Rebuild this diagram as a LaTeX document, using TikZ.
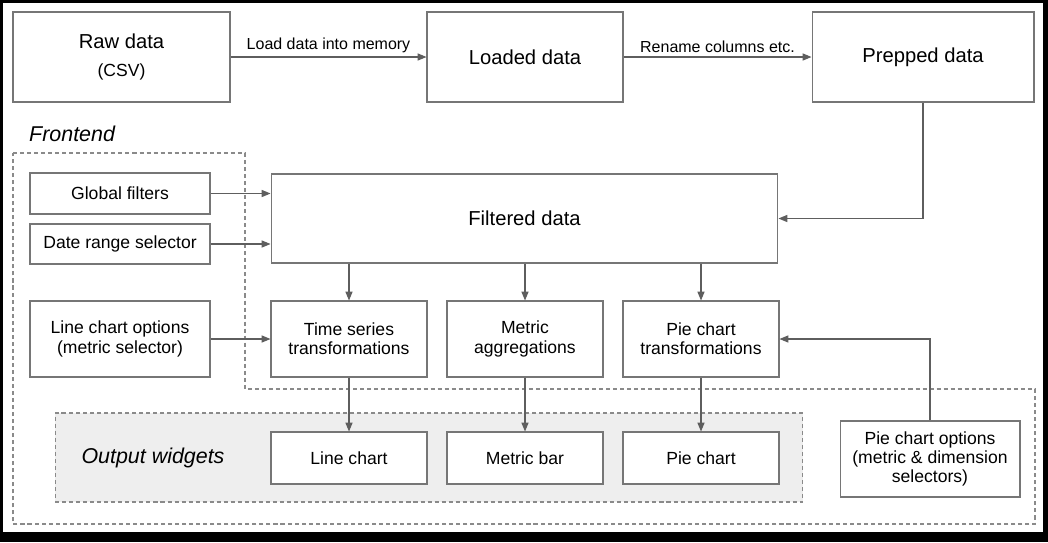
\documentclass[tikz,border=0pt]{standalone}
\usepackage{fontspec}
\setmainfont{Liberation Sans}
\usetikzlibrary{positioning,arrows.meta}
\definecolor{linegray}{HTML}{5E5E5E}
\definecolor{boxgray}{HTML}{767676}
\definecolor{dashgray}{HTML}{8A8A8A}
\definecolor{panelgray}{HTML}{EEEEEE}

\begin{document}
\begin{tikzpicture}[x=0.02cm,y=-0.02cm,
bignode/.style={rectangle, draw=boxgray, fill=white, line width=0.6pt, align=center, font=\fontsize{11.5}{13.5}\selectfont},
smallnode/.style={rectangle, draw=boxgray, fill=white, line width=0.6pt, align=center, font=\fontsize{10}{11}\selectfont},
topbox/.style={bignode, minimum height=1.8cm},
sidebox/.style={smallnode, minimum width=3.6cm},
stepbox/.style={smallnode, minimum width=3.12cm, minimum height=1.52cm},
chartbox/.style={smallnode, minimum width=3.12cm, minimum height=1.04cm},
edgelabel/.style={font=\fontsize{9.1}{11}\selectfont, inner sep=2pt},
arr/.style={draw=linegray, line width=0.6pt, -{Triangle[length=5pt,width=4pt]}},
groupbox/.style={draw=dashgray, line width=0.6pt, dash pattern=on 2.3pt off 1.7pt},
grouplabel/.style={font=\fontsize{12.2}{14}\selectfont\itshape},
]
%Frame
\fill[black] (0,0) rectangle (1048,542);
\fill[white] (3,3) rectangle (1043,532);
%Groups
\draw[groupbox] (13,153) -- (245,153) -- (245,389) -- (1035,389) -- (1035,524) -- (13,524) -- cycle;
\node[grouplabel, anchor=base west] (frontlabel) at (23,141) {Frontend};
\node[groupbox, fill=panelgray, minimum width=14.96cm, minimum height=1.78cm] (outputs) at (429,457.5) {};
\node[grouplabel] (outlabel) at (153,458) {Output widgets};
%Nodes
\node[topbox, minimum width=4.34cm]   (raw)      at (121.5,57)  {Raw data\\[2pt]{\fontsize{10}{11}\selectfont (CSV)}};
\node[topbox, minimum width=3.92cm]   (loaded)   at (525,57)    {Loaded data};
\node[topbox, minimum width=4.44cm]   (prepped)  at (923,57)    {Prepped data};
\node[bignode, minimum width=10.14cm, minimum height=1.78cm] (filtered) at (524.5,218.5) {Filtered data};
\node[sidebox, minimum height=0.82cm] (global)   at (120,193.5) {Global filters};
\node[sidebox, minimum height=0.8cm]  (daterange) at (120,244)  {Date range selector};
\node[sidebox, minimum height=1.52cm] (lineopt)  at (120,339)   {Line chart options\\(metric selector)};
\node[stepbox]                        (timeser)  at (349,339)   {Time series\\transformations};
\node[stepbox]                        (metricagg) at (525,339)  {Metric\\aggregations};
\node[stepbox]                        (pietrans) at (701,339)   {Pie chart\\transformations};
\node[chartbox]                       (linechart) at (349,458)  {Line chart};
\node[chartbox]                       (metricbar) at (525,458)  {Metric bar};
\node[chartbox]                       (piechart) at (701,458)   {Pie chart};
\node[sidebox, minimum height=1.52cm] (pieopt)   at (930,459)   {Pie chart options\\(metric \& dimension\\selectors)};
%Lines
\draw[arr] (raw.east) -- node[edgelabel, above] {Load data into memory} (loaded.west);
\draw[arr] (loaded.east) -- node[edgelabel, above] {Rename columns etc.} (prepped.west);
\draw[arr] (prepped.south) |- (filtered.east);
\draw[arr] (global.east) -- (filtered.west |- global.east);
\draw[arr] (daterange.east) -- (filtered.west |- daterange.east);
\draw[arr] (lineopt.east) -- (timeser.west);
\draw[arr] (filtered.south -| timeser.north) -- (timeser.north);
\draw[arr] (filtered.south -| metricagg.north) -- (metricagg.north);
\draw[arr] (filtered.south -| pietrans.north) -- (pietrans.north);
\draw[arr] (timeser.south) -- (linechart.north);
\draw[arr] (metricagg.south) -- (metricbar.north);
\draw[arr] (pietrans.south) -- (piechart.north);
\draw[arr] (pieopt.north) |- (pietrans.east);
\end{tikzpicture}
\end{document}
